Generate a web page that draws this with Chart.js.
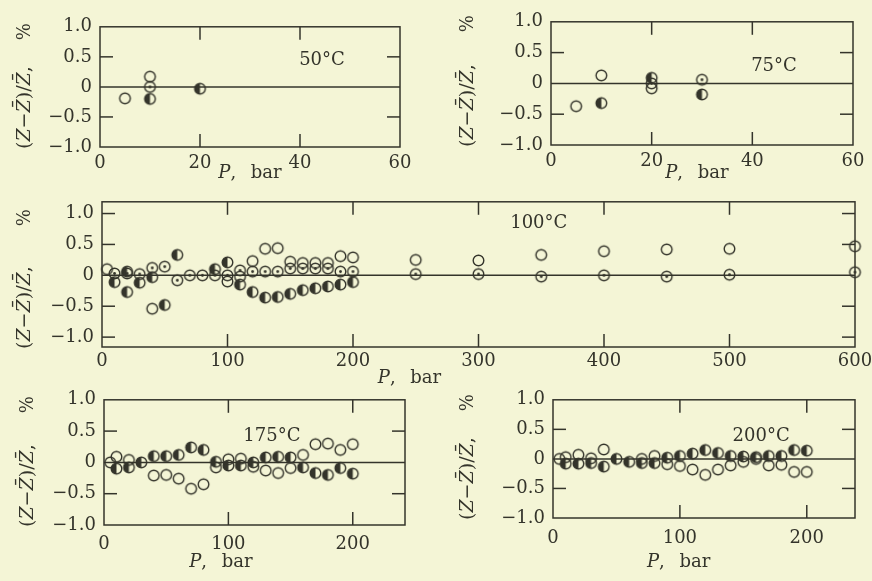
<!DOCTYPE html>
<html>
<head>
<meta charset="utf-8">
<script src="https://cdn.jsdelivr.net/npm/chart.js@4.4.1/dist/chart.umd.min.js"></script>
<style>
    html, body { margin: 0; padding: 0; width: 872px; height: 581px; overflow: hidden; background: #f4f5d6; position: relative; }
    .panel { position: absolute; }
</style>
</head>
<body>
<div class="panel" id="w50"><canvas id="c50"></canvas></div>
<div class="panel" id="w75"><canvas id="c75"></canvas></div>
<div class="panel" id="w100"><canvas id="c100"></canvas></div>
<div class="panel" id="w175"><canvas id="c175"></canvas></div>
<div class="panel" id="w200"><canvas id="c200"></canvas></div>
<script>
// Deviation data [P (bar), (Z - Zbar)/Zbar (%)]
const open50 = [[5, -0.19], [10, 0.17]];
const dotted50 = [[10, 0.0]];
const half50 = [[10, -0.2], [20, -0.03]];

const open75 = [[5, -0.37], [10, 0.13], [20, -0.08]];
const dotted75 = [[20, 0.0], [30, 0.06]];
const half75 = [[10, -0.32], [20, 0.09], [30, -0.18]];

const open100 = [[4, 0.1], [40, -0.54], [100, -0.1], [110, -0.02], [120, 0.23], [130, 0.43], [140, 0.44],
    [150, 0.22], [160, 0.2], [170, 0.2], [180, 0.2], [190, 0.31], [200, 0.29],
    [250, 0.25], [300, 0.24], [350, 0.33], [400, 0.39], [450, 0.42], [500, 0.43], [600, 0.47]];
const dotted100 = [[10, 0.03], [20, 0.03], [30, 0.02], [40, 0.12], [50, 0.14], [60, -0.08], [70, 0.0],
    [80, 0.0], [90, 0.0], [100, 0.0], [110, 0.08], [120, 0.06], [130, 0.06], [140, 0.06], [150, 0.11],
    [160, 0.11], [170, 0.11], [180, 0.11], [190, 0.06], [200, 0.06],
    [250, 0.02], [300, 0.02], [350, -0.02], [400, 0.0], [450, -0.02], [500, 0.01], [600, 0.05]];
const half100 = [[10, -0.11], [20, 0.06], [20, -0.27], [30, -0.12], [40, -0.03], [50, -0.48], [60, 0.33],
    [90, 0.1], [100, 0.21], [110, -0.15], [120, -0.27], [130, -0.36], [140, -0.35], [150, -0.3],
    [160, -0.24], [170, -0.21], [180, -0.18], [190, -0.15], [200, -0.11]];

const open175 = [[5, 0.0], [10, 0.09], [20, 0.04], [40, -0.21], [50, -0.2], [60, -0.26], [70, -0.42],
    [80, -0.35], [90, -0.08], [100, 0.05], [110, 0.06], [120, -0.07], [130, -0.13], [140, -0.17],
    [150, -0.09], [160, 0.12], [170, 0.29], [180, 0.3], [190, 0.2], [200, 0.29]];
const half175 = [[10, -0.1], [20, -0.08], [30, 0.0], [40, 0.1], [50, 0.1], [60, 0.12], [70, 0.24],
    [80, 0.2], [90, 0.01], [100, -0.05], [110, -0.05], [120, 0.0], [130, 0.08], [140, 0.09],
    [150, 0.08], [160, -0.08], [170, -0.17], [180, -0.2], [190, -0.09], [200, -0.18]];

const open200 = [[5, 0.0], [10, 0.03], [20, 0.07], [30, 0.01], [40, 0.16], [70, 0.0], [80, 0.05],
    [90, -0.09], [100, -0.12], [110, -0.18], [120, -0.27], [130, -0.18], [140, -0.11], [150, -0.05],
    [160, 0.0], [170, -0.11], [180, -0.1], [190, -0.22], [200, -0.22]];
const half200 = [[10, -0.08], [20, -0.08], [30, -0.07], [40, -0.13], [50, 0.0], [60, -0.05], [70, -0.07],
    [80, -0.07], [90, 0.02], [100, 0.05], [110, 0.09], [120, 0.15], [130, 0.1], [140, 0.05],
    [150, 0.04], [160, 0.03], [170, 0.05], [180, 0.05], [190, 0.15], [200, 0.14]];

// Tick values and labels
const yTickValues = [-1, -0.5, 0, 0.5, 1];
const yTickLabels = ['\u22121.0', '\u22120.5', '0', '0.5', '1.0'];
const xTicksLow = [0, 20, 40, 60];
const xTicks100 = [0, 100, 200, 300, 400, 500, 600];
const xTicksHigh = [0, 100, 200];

const INK = '#34342b';
const FONT = '"DejaVu Serif", "Liberation Serif", serif';
const Y_AXIS_W = 100;
const X_AXIS_H = 58;
const PAD_TOP = 14;
const PAD_RIGHT = 30;

/**
 * Small canvases used as point styles
 */
function makeMarker(kind) {
    const c = document.createElement('canvas');
    c.width = 15;
    c.height = 15;
    const g = c.getContext('2d');
    const r = 5.3;
    if (kind === 'half') {
        g.fillStyle = INK;
        g.beginPath();
        g.arc(7.5, 7.5, r, Math.PI / 2, Math.PI * 1.5);
        g.closePath();
        g.fill();
    }
    g.strokeStyle = INK;
    g.lineWidth = 1.4;
    g.beginPath();
    g.arc(7.5, 7.5, r, 0, Math.PI * 2);
    g.stroke();
    if (kind === 'dotted') {
        g.fillStyle = INK;
        g.beginPath();
        g.arc(7.5, 7.5, 1.4, 0, Math.PI * 2);
        g.fill();
    }
    return c;
}

const markers = {
    open: makeMarker('open'),
    dotted: makeMarker('dotted'),
    half: makeMarker('half')
};

/**
 * Draw a run of text pieces, some italic, starting at x
 */
function drawRich(ctx, parts, x, y, size, align) {
    let w = 0;
    parts.forEach(([t, it]) => {
        ctx.font = (it ? 'italic ' : '') + size + 'px ' + FONT;
        w += ctx.measureText(t).width;
    });
    let cx = align === 'center' ? x - w / 2 : x;
    ctx.textAlign = 'left';
    ctx.textBaseline = 'middle';
    parts.forEach(([t, it]) => {
        ctx.font = (it ? 'italic ' : '') + size + 'px ' + FONT;
        ctx.fillText(t, cx, y);
        cx += ctx.measureText(t).width;
    });
}

// Frame with inward ticks, zero line and the panel texts
const panelDeco = {
    id: 'panelDeco',
    beforeDatasetsDraw(chart, args, opts) {
        const { ctx, chartArea: a, scales: { x, y } } = chart;
        const TL = 13;
        ctx.save();
        ctx.strokeStyle = INK;
        ctx.fillStyle = INK;
        ctx.lineWidth = 1.5;
        ctx.strokeRect(a.left, a.top, a.right - a.left, a.bottom - a.top);

        const seg = (x1, y1, x2, y2) => {
            ctx.beginPath();
            ctx.moveTo(x1, y1);
            ctx.lineTo(x2, y2);
            ctx.stroke();
        };

        const y0 = y.getPixelForValue(0);
        seg(a.left, y0, a.right, y0);

        y.ticks.forEach(t => {
            const py = y.getPixelForValue(t.value);
            if (t.value === 0 || py < a.top + 2 || py > a.bottom - 2) return;
            seg(a.left, py, a.left + TL, py);
            seg(a.right, py, a.right - TL, py);
        });
        x.ticks.forEach(t => {
            const px = x.getPixelForValue(t.value);
            if (px < a.left + 2 || px > a.right - 2) return;
            seg(px, a.top, px, a.top + TL);
            seg(px, a.bottom, px, a.bottom - TL);
        });

        // temperature label
        ctx.font = '18px ' + FONT;
        ctx.textAlign = 'center';
        ctx.textBaseline = 'middle';
        ctx.fillText(opts.label, x.getPixelForValue(opts.labelAt[0]), y.getPixelForValue(opts.labelAt[1]));

        // x title
        drawRich(ctx, [['P', true], [',\u2002 bar', false]],
            x.getPixelForValue(opts.xTitleAt), a.bottom + opts.xTitleDy, 18, 'center');

        // y title (rotated)
        ctx.translate(a.left + opts.yTitleDx, a.bottom + 2);
        ctx.rotate(-Math.PI / 2);
        drawRich(ctx, [['(', false], ['Z', true], ['\u2212', false], ['Z\u0304', true],
            [')/', false], ['Z\u0304', true], [',', false]], 0, 0, 19, 'left');
        ctx.font = '18px ' + FONT;
        ctx.textAlign = 'center';
        ctx.fillText('%', a.bottom + 2 - a.top - opts.pctDy, 0);
        ctx.restore();
    }
};

function renderPanel(p) {
    const wrap = document.getElementById('w' + p.id);
    wrap.style.left = (p.box[0] - Y_AXIS_W) + 'px';
    wrap.style.top = (p.box[1] - PAD_TOP) + 'px';
    wrap.style.width = (p.box[2] - p.box[0] + Y_AXIS_W + PAD_RIGHT) + 'px';
    wrap.style.height = (p.box[3] - p.box[1] + PAD_TOP + X_AXIS_H) + 'px';

    const ctx = document.getElementById('c' + p.id).getContext('2d');
    return new Chart(ctx, {
        type: 'scatter',
        data: {
            datasets: p.series.map(s => ({
                data: s.data.map(d => ({ x: d[0], y: d[1] })),
                pointStyle: markers[s.kind],
                pointRadius: 5,
                clip: false
            }))
        },
        options: {
            responsive: true,
            maintainAspectRatio: false,
            animation: false,
            events: [],
            layout: { padding: { top: PAD_TOP, right: PAD_RIGHT, left: 0, bottom: 0 } },
            plugins: {
                legend: { display: false },
                tooltip: { enabled: false },
                panelDeco: p.deco
            },
            scales: {
                x: {
                    type: 'linear',
                    min: 0,
                    max: p.xMax,
                    grid: { display: false, drawTicks: false },
                    border: { display: false },
                    afterBuildTicks: s => { s.ticks = p.xTicks.map(v => ({ value: v })); },
                    afterFit: s => { s.height = X_AXIS_H; },
                    ticks: {
                        padding: p.xPad,
                        color: INK,
                        maxRotation: 0,
                        autoSkip: false,
                        font: { family: FONT, size: 18 },
                        callback: v => String(v)
                    }
                },
                y: {
                    type: 'linear',
                    min: p.yMin,
                    max: p.yMax,
                    grid: { display: false, drawTicks: false },
                    border: { display: false },
                    afterBuildTicks: s => { s.ticks = yTickValues.map(v => ({ value: v })); },
                    afterFit: s => { s.width = Y_AXIS_W; },
                    ticks: {
                        padding: 8,
                        color: INK,
                        autoSkip: false,
                        font: { family: FONT, size: 18 },
                        callback: v => yTickLabels[yTickValues.indexOf(v)]
                    }
                }
            }
        },
        plugins: [panelDeco]
    });
}

const panels = [
    {
        id: '50', box: [100, 22, 400, 147], xMax: 60, xTicks: xTicksLow, yMin: -1, yMax: 1, xPad: 6,
        series: [{ kind: 'open', data: open50 }, { kind: 'dotted', data: dotted50 }, { kind: 'half', data: half50 }],
        deco: { label: '50°C', labelAt: [44.4, 0.45], xTitleAt: 30, xTitleDy: 26, yTitleDx: -75, pctDy: 5 }
    },
    {
        id: '75', box: [551, 17, 853, 145], xMax: 60, xTicks: xTicksLow, yMin: -1, yMax: 1, xPad: 6,
        series: [{ kind: 'open', data: open75 }, { kind: 'dotted', data: dotted75 }, { kind: 'half', data: half75 }],
        deco: { label: '75°C', labelAt: [44.3, 0.28], xTitleAt: 29, xTitleDy: 28, yTitleDx: -83, pctDy: 2 }
    },
    {
        id: '100', box: [102, 197, 855, 347], xMax: 600, xTicks: xTicks100, yMin: -1.16, yMax: 1.19, xPad: 4,
        series: [{ kind: 'open', data: open100 }, { kind: 'dotted', data: dotted100 }, { kind: 'half', data: half100 }],
        deco: { label: '100°C', labelAt: [348, 0.84], xTitleAt: 245, xTitleDy: 31, yTitleDx: -77, pctDy: 16 }
    },
    {
        id: '175', box: [104, 395, 405, 525], xMax: 242, xTicks: xTicksHigh, yMin: -1, yMax: 1, xPad: 9,
        series: [{ kind: 'open', data: open175 }, { kind: 'half', data: half175 }],
        deco: { label: '175°C', labelAt: [135, 0.42], xTitleAt: 94, xTitleDy: 37, yTitleDx: -76, pctDy: 5 }
    },
    {
        id: '200', box: [553, 395, 855, 518], xMax: 238, xTicks: xTicksHigh, yMin: -1, yMax: 1, xPad: 10,
        series: [{ kind: 'open', data: open200 }, { kind: 'half', data: half200 }],
        deco: { label: '200°C', labelAt: [164, 0.38], xTitleAt: 99, xTitleDy: 44, yTitleDx: -85, pctDy: 3 }
    }
];

panels.forEach(renderPanel);
</script>
</body>
</html>
